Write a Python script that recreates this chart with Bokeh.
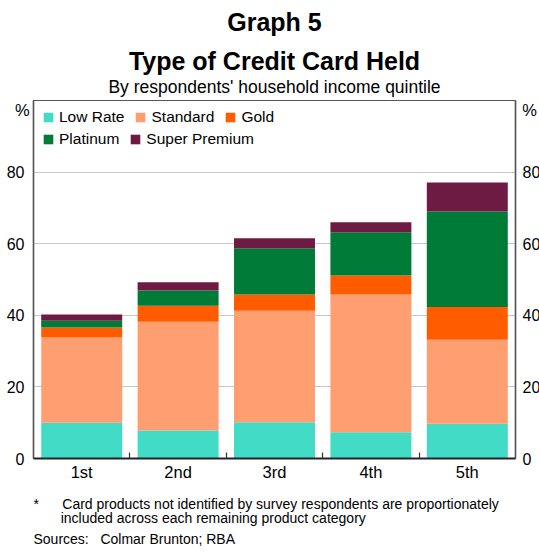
from bokeh.plotting import figure
from bokeh.models import (ColumnDataSource, FixedTicker, LinearAxis, Legend,
                          LegendItem, Range1d, Title)
from bokeh.embed import file_html
from bokeh.resources import INLINE

# ---------------- data ----------------
categories = ["1st", "2nd", "3rd", "4th", "5th"]
series = ["Low Rate", "Standard", "Gold", "Platinum", "Super Premium"]
low_rate = [10.0, 7.8, 10.1, 7.3, 9.7]
standard = [23.8, 30.4, 31.2, 38.5, 23.5]
gold = [2.8, 4.5, 4.5, 5.3, 9.1]
platinum = [1.9, 4.2, 12.9, 12.1, 26.7]
super_premium = [1.7, 2.3, 2.8, 2.8, 8.1]
y_ticks = [0, 20, 40, 60, 80]

colors = ["#42dbc6", "#ff9e70", "#ff5c00", "#007a37", "#6e1b43"]
FONT = "Liberation Sans"

W, H = 539, 552
FL, FR = 33, 519     # frame left / right (canvas px)
FT, FB = 100, 458    # frame top / bottom (canvas px)

x_centers = [i + 0.5 for i in range(len(categories))]
boundaries = [i for i in range(1, len(categories))]

source = ColumnDataSource(data={
    "x": x_centers,
    "Low Rate": low_rate,
    "Standard": standard,
    "Gold": gold,
    "Platinum": platinum,
    "Super Premium": super_premium,
})

p = figure(width=W, height=H, x_range=Range1d(0, len(categories)),
           y_range=Range1d(0, 100), output_backend="svg",
           toolbar_location=None,
           min_border_left=FL, min_border_right=W - FR,
           min_border_top=FT, min_border_bottom=H - FB)
p.title.visible = False
p.background_fill_color = "white"
p.border_fill_color = "white"
p.outline_line_color = "#555555"
p.outline_line_width = 1.2

renderers = p.vbar_stack(series, x="x", width=0.84, source=source,
                         fill_color=colors, line_color=None)

xa = p.xaxis[0]
xa.ticker = FixedTicker(ticks=x_centers, minor_ticks=boundaries)
xa.major_label_overrides = {c: cat for c, cat in zip(x_centers, categories)}
xa.major_tick_line_color = None
xa.minor_tick_in = 6
xa.minor_tick_out = 0
xa.minor_tick_line_color = "#333333"
xa.minor_tick_line_width = 1.2
xa.axis_line_color = "#222222"
xa.axis_line_width = 2
xa.major_label_text_font = FONT
xa.major_label_text_font_size = "16.5px"
xa.major_label_text_color = "black"
xa.major_label_standoff = -2

ya = p.yaxis[0]
ra = LinearAxis()
p.add_layout(ra, "right")
for ax, sto, lsto in ((ya, -26, 3), (ra, -21, 1)):
    ax.ticker = FixedTicker(ticks=y_ticks)
    ax.major_tick_line_color = None
    ax.minor_tick_line_color = None
    ax.axis_line_color = "#555555"
    ax.axis_line_width = 1.5
    ax.major_label_text_font = FONT
    ax.major_label_text_font_size = "16px"
    ax.major_label_text_color = "black"
    ax.major_label_standoff = lsto
    ax.axis_label = "\n%"
    ax.axis_label_orientation = "horizontal"
    ax.axis_label_align = "end"
    ax.axis_label_standoff = sto
    ax.axis_label_text_font = FONT
    ax.axis_label_text_font_size = "16.5px"
    ax.axis_label_text_font_style = "normal"
    ax.axis_label_text_color = "black"
    ax.axis_label_text_line_height = 1.1

p.xgrid.visible = False
p.ygrid.ticker = FixedTicker(ticks=y_ticks[1:])
p.ygrid.grid_line_color = "#c8c8c8"
p.ygrid.grid_line_width = 1.2

row_h = 18
def make_legend(items, top_px):
    lg = Legend(items=items, orientation="horizontal",
                location=(9, (FB - FT) - (top_px - FT) - row_h),
                glyph_width=12, glyph_height=12, label_standoff=5,
                spacing=10, padding=0, margin=0,
                border_line_color=None, background_fill_alpha=0,
                label_text_font=FONT, label_text_font_size="15.5px",
                label_text_color="black", label_height=row_h)
    p.add_layout(lg, "center")

make_legend([LegendItem(label=series[i], renderers=[renderers[i]]) for i in range(3)], 108)
make_legend([LegendItem(label=series[i], renderers=[renderers[i]]) for i in range(3, 5)], 130)

# ---------------- titles (above, nearest the frame first) ----------------
def title(text, size, bold, side, standoff, align="center", offset=0,
          valign="bottom", lh=1.0):
    t = Title(text=text, text_font=FONT, text_font_size=size,
              text_font_style="bold" if bold else "normal", text_color="black",
              align=align, offset=offset, standoff=standoff,
              vertical_align=valign, text_line_height=lh)
    p.add_layout(t, side)

title("By respondents' household income quintile", "17.5px", False, "above", 4, valign="top")
title("Type of Credit Card Held", "25px", True, "above", 0, valign="bottom")
title("Graph 5", "25px", True, "above", 14, valign="top")

# ---------------- footer (below, nearest the frame first) ----------------
NB = "\u00a0"
title("*" + NB * 6 + "Card products not identified by survey respondents are proportionately\n"
      + NB * 7 + "included across each remaining product category",
      "14px", False, "below", 21, align="left", offset=0, valign="bottom", lh=0.9)
title("Sources:" + NB * 3 + "Colmar Brunton; RBA",
      "14px", False, "below", -12, align="left", offset=0, valign="top")

open("out.html", "w").write(file_html(p, INLINE))
